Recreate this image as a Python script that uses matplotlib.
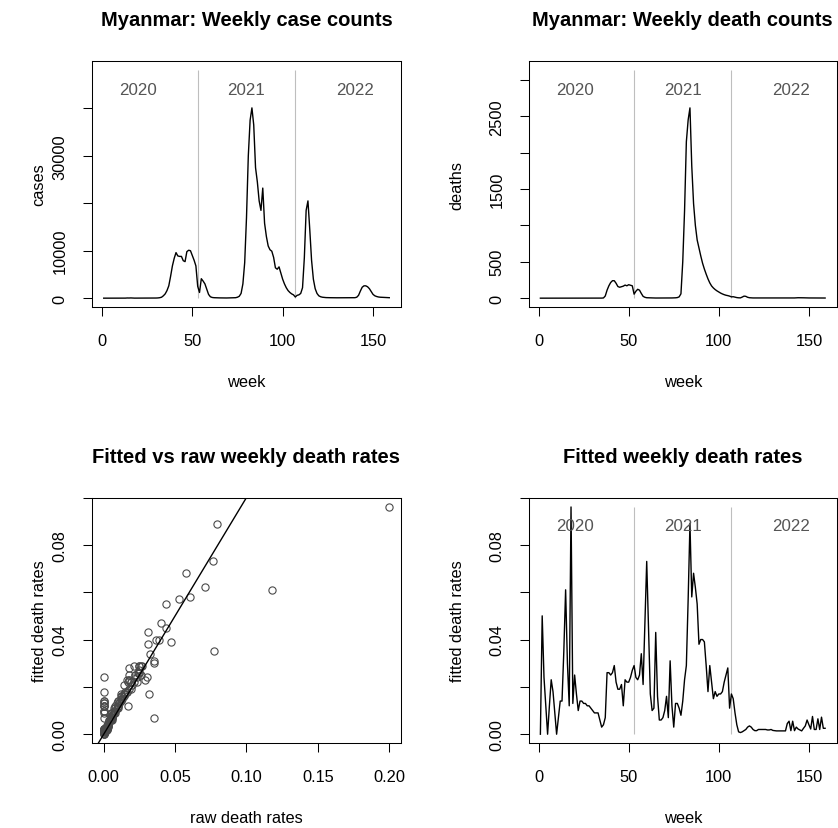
import numpy as np
import matplotlib
matplotlib.use("Agg")
import matplotlib.pyplot as plt
from matplotlib import transforms as mtrans

plt.rcParams['font.family'] = ['Liberation Sans', 'DejaVu Sans']

# ---------------- data ----------------
weeks = list(range(1, 160))

cases = [
    0, 0, 0, 0, 0, 0, 0, 0, 0, 0,
    0, 5, 10, 40, 30, 50, 20, 10, 10, 5,
    10, 10, 20, 15, 30, 20, 10, 15, 20, 30,
    50, 100, 200, 500, 900, 1600, 2600, 4600, 6800, 8400,
    9600, 8900, 8800, 8800, 7900, 7700, 9800, 10100, 10000, 9000,
    8000, 6800, 2500, 1200, 4100, 3600, 3000, 1900, 800, 300,
    150, 100, 80, 60, 60, 50, 50, 40, 40, 50,
    50, 60, 80, 100, 200, 400, 1000, 3000, 7500, 17000,
    30000, 37500, 40100, 36500, 27500, 24500, 20500, 18500, 23200, 15800,
    13000, 11000, 10200, 9900, 8600, 6400, 6100, 6600, 5300, 4000,
    3000, 2200, 1600, 1200, 900, 700, 250, 600, 700, 1000,
    2200, 8500, 18500, 20500, 14500, 8000, 4000, 2000, 1000, 500,
    300, 200, 150, 120, 100, 100, 90, 90, 80, 80,
    80, 80, 80, 80, 90, 90, 100, 100, 100, 100,
    200, 600, 1500, 2300, 2600, 2600, 2400, 2000, 1400, 800,
    500, 350, 250, 200, 180, 150, 130, 120, 100,
]

deaths = [
    0, 0, 0, 0, 0, 0, 0, 0, 0, 0,
    0, 0, 0, 1, 1, 1, 0, 1, 0, 0,
    0, 0, 0, 0, 0, 0, 0, 0, 0, 0,
    0, 1, 1, 1, 1, 3, 30, 110, 170, 215,
    240, 240, 205, 160, 150, 158, 165, 180, 170, 185,
    178, 170, 55, 95, 122, 110, 65, 25, 12, 6,
    5, 3, 3, 2, 2, 2, 2, 2, 2, 2,
    2, 2, 3, 3, 4, 5, 8, 18, 60, 500,
    1200, 2150, 2450, 2615, 1817, 1300, 1000, 800, 690, 580,
    480, 400, 330, 265, 210, 168, 140, 118, 100, 85,
    70, 58, 48, 40, 35, 28, 18, 20, 14, 8,
    5, 4, 15, 28, 25, 12, 6, 4, 3, 3,
    3, 3, 3, 2, 2, 2, 2, 2, 2, 2,
    2, 2, 2, 2, 2, 2, 2, 3, 3, 3,
    3, 3, 5, 6, 6, 6, 5, 4, 3, 3,
    3, 2, 2, 2, 2, 2, 2, 2, 2,
]

fitted_rate = [
    0.000, 0.050, 0.024, 0.012, 0.000, 0.012, 0.023, 0.018, 0.009, 0.000,
    0.007, 0.014, 0.014, 0.035, 0.061, 0.030, 0.012, 0.096, 0.013, 0.025,
    0.017, 0.010, 0.014, 0.014, 0.013, 0.013, 0.012, 0.012, 0.011, 0.010,
    0.009, 0.009, 0.009, 0.006, 0.003, 0.004, 0.007, 0.026, 0.026, 0.025,
    0.026, 0.029, 0.022, 0.019, 0.019, 0.021, 0.012, 0.023, 0.022, 0.022,
    0.024, 0.027, 0.029, 0.024, 0.023, 0.025, 0.034, 0.021, 0.047, 0.073,
    0.045, 0.017, 0.010, 0.011, 0.043, 0.016, 0.006, 0.006, 0.007, 0.010,
    0.016, 0.007, 0.031, 0.012, 0.003, 0.013, 0.013, 0.011, 0.008, 0.014,
    0.023, 0.029, 0.057, 0.089, 0.058, 0.068, 0.062, 0.055, 0.038, 0.040,
    0.040, 0.039, 0.029, 0.018, 0.029, 0.022, 0.015, 0.018, 0.016, 0.017,
    0.017, 0.018, 0.022, 0.025, 0.028, 0.011, 0.017, 0.015, 0.009, 0.004,
    0.0010, 0.0007, 0.0010, 0.0015, 0.0020, 0.0030, 0.0035, 0.0030, 0.0020, 0.0015,
    0.0015, 0.0020, 0.0020, 0.0020, 0.0020, 0.0020, 0.0018, 0.0018, 0.0020, 0.0016,
    0.0015, 0.0014, 0.0014, 0.0014, 0.0014, 0.0014, 0.0014, 0.0045, 0.0055, 0.0015,
    0.0055, 0.0015, 0.0030, 0.0022, 0.0018, 0.0014, 0.0025, 0.0035, 0.0060, 0.0040,
    0.0022, 0.0075, 0.0020, 0.0020, 0.0065, 0.0020, 0.0072, 0.0025, 0.0025,
]

raw_rate = [
    0.000, np.nan, 0.000, 0.000, 0.000, 0.000, 0.016, 0.000, 0.000, 0.000,
    0.000, 0.000, 0.000, 0.077, 0.118, 0.035, 0.000, 0.200, 0.000, 0.018,
    0.0315, 0.000, 0.010, 0.012, 0.000, 0.011, 0.008, 0.010, 0.007, 0.000,
    0.006, 0.005, 0.007, 0.004, 0.002, 0.002, 0.035, 0.024, 0.025, 0.026,
    0.025, 0.027, 0.023, 0.018, 0.019, 0.020, 0.017, 0.018, 0.017, 0.021,
    0.023, 0.025, 0.021, 0.030, 0.029, 0.022, 0.0327, 0.014, 0.040, 0.0764,
    0.0439, 0.012, 0.008, 0.010, 0.0308, 0.013, 0.005, 0.006, 0.006, 0.007,
    0.012, 0.006, 0.035, 0.010, 0.003, 0.009, 0.011, 0.008, 0.006, 0.010,
    0.018, 0.025, 0.0528, 0.079, 0.0603, 0.0575, 0.0708, 0.0439, 0.0308, 0.0367,
    0.039, 0.047, 0.026, 0.016, 0.025, 0.019, 0.013, 0.015, 0.014, 0.015,
    0.014, 0.016, 0.019, 0.022, 0.018, 0.009, 0.014, 0.012, 0.008, 0.003,
    0.000, 0.000, 0.001, 0.001, 0.002, 0.002, 0.003, 0.002, 0.000, 0.001,
    0.001, 0.002, 0.000, 0.002, 0.001, 0.000, 0.001, 0.002, 0.000, 0.001,
    0.001, 0.000, 0.001, 0.000, 0.001, 0.001, 0.000, 0.003, 0.004, 0.000,
    0.004, 0.000, 0.002, 0.001, 0.001, 0.000, 0.002, 0.003, 0.005, 0.003,
    0.001, 0.006, 0.000, 0.001, 0.005, 0.000, 0.006, 0.002, 0.001,
]

year_labels = ['2020', '2021', '2022']
year_label_weeks = [20, 80, 140]
year_breaks = [53, 107]

# ---------------- layout ----------------
W, H = 838, 829
fig = plt.figure(figsize=(W / 100, H / 100), dpi=100)
fig.patch.set_facecolor('white')

BASE = 11.8
TITLE = 14.5
YEAR_COL = '#555555'
VLINE_COL = '#BEBEBE'


def add_ax(l, t, r, b):
    return fig.add_axes([l / W, 1 - b / H, (r - l) / W, (b - t) / H])


def rstyle(ax, box, xticks, xlabels, yticks, ylabels, xlab, ylab, title,
           ylab_x):
    l, t, r, b = box
    ax.set_xticks(xticks)
    ax.set_yticks(yticks)
    ax.set_xticklabels([])
    ax.set_yticklabels([])
    ax.tick_params(direction='out', length=6.5, width=0.75, color='black')
    for s in ax.spines.values():
        s.set_linewidth(0.75)
        s.set_color('black')
    xt = mtrans.offset_copy(ax.get_xaxis_transform(), fig=fig, x=0, y=-33,
                            units='dots')
    for tv, lab in zip(xticks, xlabels):
        if lab:
            ax.text(tv, 0, lab, transform=xt, ha='center', va='center',
                    fontsize=BASE)
    yt = mtrans.offset_copy(ax.get_yaxis_transform(), fig=fig, x=-32, y=0,
                            units='dots')
    for tv, lab in zip(yticks, ylabels):
        if lab:
            ax.text(0, tv, lab, transform=yt, ha='center', va='center',
                    rotation=90, fontsize=BASE)
    cx = (l + r) / 2 / W
    fig.text(cx, 1 - (b + 74) / H, xlab, ha='center', va='center',
             fontsize=BASE)
    fig.text(ylab_x / W, 1 - (t + b) / 2 / H, ylab, ha='center',
             va='center', rotation=90, fontsize=BASE)
    fig.text(cx, 1 - (t - 41) / H, title, ha='center', va='center',
             fontsize=TITLE, fontweight='bold')


def years(ax, top):
    ax.vlines(year_breaks, 0, top, colors=VLINE_COL, linewidth=0.8)
    for lab, wk in zip(year_labels, year_label_weeks):
        ax.text(wk, 0.885, lab, transform=ax.get_xaxis_transform(),
                ha='center', va='center', fontsize=12.2, color=YEAR_COL)


def rlim(lo, hi):
    d = (hi - lo) * 0.04
    return lo - d, hi + d


wk_lim = rlim(min(weeks), max(weeks))

# --- top-left: cases ---
box = (92.3, 61.7, 400.7, 308.3)
ax1 = add_ax(*box)
ctop = 1.2 * max(cases)
years(ax1, ctop)
ax1.plot(weeks, cases, color='black', linewidth=1.0)
ax1.set_xlim(*wk_lim)
ax1.set_ylim(*rlim(0, ctop))
rstyle(ax1, box, [0, 50, 100, 150], ['0', '50', '100', '150'],
       [0, 10000, 20000, 30000, 40000], ['0', '10000', '', '30000', ''],
       'week', 'cases', 'Myanmar: Weekly case counts', 39)

# --- top-right: deaths ---
box = (529.0, 61.7, 836.5, 308.3)
ax2 = add_ax(*box)
dtop = 1.2 * max(deaths)
years(ax2, dtop)
ax2.plot(weeks, deaths, color='black', linewidth=1.0)
ax2.set_xlim(*wk_lim)
ax2.set_ylim(*rlim(0, dtop))
rstyle(ax2, box, [0, 50, 100, 150], ['0', '50', '100', '150'],
       [0, 500, 1000, 1500, 2000, 2500, 3000],
       ['0', '500', '', '1500', '', '2500', ''],
       'week', 'deaths', 'Myanmar: Weekly death counts', 457)

# --- bottom-left: scatter ---
box = (92.3, 498.5, 400.7, 744.3)
ax3 = add_ax(*box)
rr = np.array(raw_rate, dtype=float)
fr = np.array(fitted_rate, dtype=float)
ax3.plot(rr, fr, linestyle='none', marker='o', markersize=5.2,
         markerfacecolor='none', markeredgecolor='#4a4a4a',
         markeredgewidth=0.8)
ax3.axline((0, 0), slope=1, color='black', linewidth=1.0)
ax3.set_xlim(*rlim(0, np.nanmax(rr)))
ax3.set_ylim(*rlim(0, np.nanmax(fr)))
rstyle(ax3, box, [0, 0.05, 0.10, 0.15, 0.20],
       ['0.00', '0.05', '0.10', '0.15', '0.20'],
       [0, 0.02, 0.04, 0.06, 0.08, 0.10],
       ['0.00', '', '0.04', '', '0.08', ''],
       'raw death rates', 'fitted death rates',
       'Fitted vs raw weekly death rates', 39)

# --- bottom-right: fitted rates ---
box = (529.0, 498.5, 836.5, 744.3)
ax4 = add_ax(*box)
years(ax4, max(fitted_rate))
ax4.plot(weeks, fitted_rate, color='black', linewidth=1.0)
ax4.set_xlim(*wk_lim)
ax4.set_ylim(*rlim(0, max(fitted_rate)))
rstyle(ax4, box, [0, 50, 100, 150], ['0', '50', '100', '150'],
       [0, 0.02, 0.04, 0.06, 0.08, 0.10],
       ['0.00', '', '0.04', '', '0.08', ''],
       'week', 'fitted death rates', 'Fitted weekly death rates', 457)

fig.savefig('out.png', dpi=100, facecolor='white')
